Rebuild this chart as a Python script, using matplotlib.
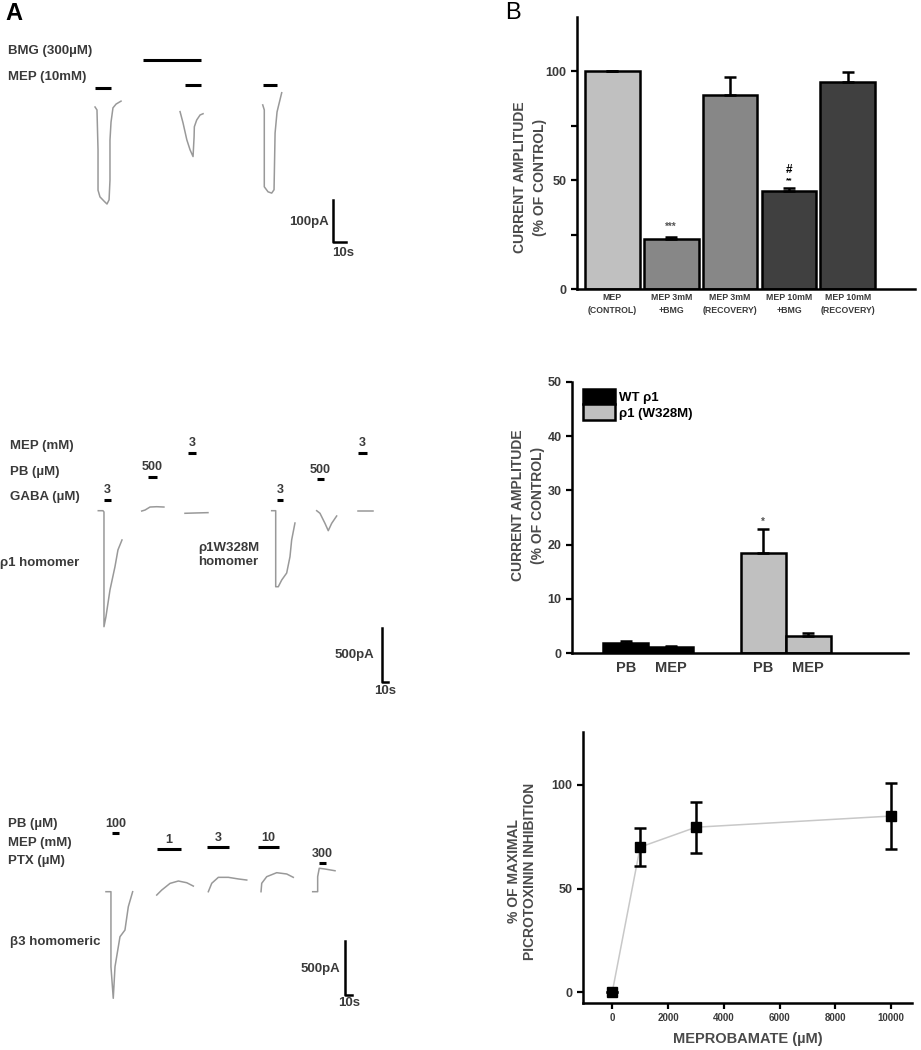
import matplotlib.pyplot as plt
from matplotlib.patches import Patch

plt.rcParams['font.family'] = ['Liberation Sans', 'DejaVu Sans']
plt.rcParams['font.weight'] = 'bold'
plt.rcParams['axes.labelweight'] = 'bold'

W, H = 921, 1050
fig = plt.figure(figsize=(9.21, 10.5), dpi=100)


def box(l, t, r, b):
    return [l / W, 1 - b / H, (r - l) / W, (b - t) / H]


def ftext(x, y, s, **kw):
    kw.setdefault('size', 9.5)
    kw.setdefault('color', '#3a3a3a')
    kw.setdefault('va', 'center')
    fig.text(x / W, 1 - y / H, s, **kw)


# ---------------- data: panel B ----------------
amp_labels = ['MEP\n(CONTROL)', 'MEP 3mM\n+BMG', 'MEP 3mM\n(RECOVERY)',
              'MEP 10mM\n+BMG', 'MEP 10mM\n(RECOVERY)']
amp_vals = [100, 23, 89, 45, 95]
amp_err = [0, 1, 8.5, 1.5, 4.7]
amp_colors = ['#c0c0c0', '#878787', '#878787', '#404040', '#404040']

rho_labels = ['PB', 'MEP', 'PB', 'MEP']
wt_vals = [1.8, 1.1]
wt_err = [0.35, 0.1]
mut_vals = [18.5, 3.2]
mut_err = [4.3, 0.4]

conc = [0, 1000, 3000, 10000]
inhib = [0, 70, 79.6, 85]
inhib_err = [0, 9, 12.4, 16]

# ---------------- data: panel A traces (time s, current pA) ----------------
# row 1: BMG / MEP
r1_onsets = [73.1, 138.5, 202.1]
r1_offsets = [0, -11, 5]
r1_t = [[0, 1.5, 2.3, 2.3, 3.8, 6.9, 9.2, 10.8, 11.5, 11.5, 12.3, 13.8, 16.2, 20],
        [0, 2.3, 5.2, 7.7, 10, 10.8, 11, 12.8, 15.4, 17.7],
        [0, 1.2, 1.2, 4.1, 6.9, 8.7, 9.5, 11, 12, 14.6]]
r1_i = [[0, -7, -102, -198, -214, -224, -231, -221, -174, -79, -36, -2, 7, 14],
        [0, -27, -67, -91, -107, -60, -36, -20, -8, -5],
        [0, -12, -195, -207, -210, -202, -67, -17, -4, 29]]
r1_apps = [(73.1, 85.4, 45, ''), (142.3, 154.6, 52, ''), (202.3, 213.1, 52, ''),
           (110, 154.6, 112, '')]

# row 2: rho1 and rho1 W328M
r2_onsets = [163.8, 236.2, 308.3, 452.8, 527.8, 597.2]
r2_offsets = [0, -3, -24, 0, 0, 0]
r2_t = [[0, 7.8, 9.5, 9.5, 12.8, 19.5, 27.8, 32.8, 39.5],
        [0, 5.5, 13.8, 25, 37],
        [0, 18.3, 38.3],
        [0, 6.7, 6.7, 11, 16.7, 25, 30.5, 33.3, 38.8],
        [0, 5.5, 13.8, 19.3, 25, 33.3],
        [0, 13.8, 25]]
r2_i = [[0, 0, -12, -1074, -981, -734, -519, -363, -271],
        [0, 9, 37, 40, 37],
        [0, 3, 6],
        [0, 0, -704, -704, -642, -577, -426, -271, -114],
        [0, -24, -117, -185, -117, -49],
        [0, 0, 0]]
r2_apps = [(173.3, 185, 99, '3'), (246.7, 261.7, 312, '500'), (313.3, 326.7, 534, '3'),
           (461.7, 471.7, 99, '3'), (528.3, 540, 290, '500'), (596.7, 611.7, 534, '3')]

# row 3: beta3 homomeric
r3_onsets = [151.4, 223.9, 297.6, 372.9, 446.7]
r3_offsets = [0, -31, 0, 0, 0]
r3_t = [[0, 7.1, 7.1, 10.4, 12.9, 20, 27.1, 31.9, 38.1],
        [0, 7.1, 19, 30.9, 42.9, 52.3],
        [0, 4.9, 14.3, 28.6, 42.9, 54.9],
        [0, 1, 8.1, 22.4, 36.7, 46.1],
        [0, 7.1, 7.1, 9.4, 17.6, 31.9]]
r3_i = [[0, 0, -694, -987, -694, -417, -355, -139, 0],
        [0, 46, 108, 130, 114, 83],
        [0, 78, 133, 133, 118, 108],
        [0, 78, 139, 176, 164, 133],
        [0, 0, 139, 217, 210, 194]]
r3_apps = [(160, 170, 543, '100'), (224.3, 258.6, 395, '1'), (295.7, 327.1, 414, '3'),
           (368.6, 398.6, 414, '10'), (455.7, 465.7, 266, '300')]

trace_color = '#999999'


def trace_ax(top, bottom, px_s, px_pa, base):
    ax = fig.add_axes(box(0, top, 460, bottom))
    ax.set_xlim(0, 460 / px_s)
    ax.set_ylim((base - bottom) / px_pa, (base - top) / px_pa)
    ax.axis('off')
    return ax


def draw_row(ax, onsets, offsets, ts, cs, apps, text_gap, sbar, sbar_pa):
    for t0, i0, t, c in zip(onsets, offsets, ts, cs):
        ax.plot([t0 + v for v in t], [i0 + v for v in c], color=trace_color, lw=1.1)
    for a, b, y, lab in apps:
        ax.plot([a, b], [y, y], color='black', lw=2.2, solid_capstyle='butt')
        if lab:
            ax.text((a + b) / 2, y + text_gap, lab, ha='center', va='center',
                    size=9, color='#3a3a3a')
    x0, y0 = sbar
    ax.plot([x0, x0, x0 + 10], [y0 + sbar_pa, y0, y0], color='black', lw=1.8)


# ---------------- panel A ----------------
ftext(5, 13, 'A', size=17, color='black')

ax_r1 = trace_ax(30, 260, 1.3, 0.42, 107)
draw_row(ax_r1, r1_onsets, r1_offsets, r1_t, r1_i, r1_apps, 0, (256.2, -321.4), 100)
ftext(8, 51, 'BMG (300µM)')
ftext(8, 77, 'MEP (10mM)')
ftext(329, 222, '100pA', ha='right')
ftext(343, 253, '10s', ha='center')

ax_r2 = trace_ax(430, 700, 0.6, 0.108, 510.7)
draw_row(ax_r2, r2_onsets, r2_offsets, r2_t, r2_i, r2_apps, 90, (636.7, -1586), 500)
ftext(10, 446, 'MEP (mM)')
ftext(10, 472, 'PB (µM)')
ftext(10, 497, 'GABA (µM)')
ftext(0, 563, 'ρ1 homomer')
ftext(198, 555, 'ρ1W328M\nhomomer', linespacing=1.25)
ftext(374, 655, '500pA', ha='right')
ftext(385, 691, '10s', ha='center')

ax_r3 = trace_ax(800, 1040, 0.7, 0.108, 891.7)
draw_row(ax_r3, r3_onsets, r3_offsets, r3_t, r3_i, r3_apps, 85, (492.9, -956), 500)
ftext(8, 824, 'PB (µM)')
ftext(8, 843, 'MEP (mM)')
ftext(8, 861, 'PTX (µM)')
ftext(10, 942, 'β3 homomeric')
ftext(340, 969, '500pA', ha='right')
ftext(349, 1003, '10s', ha='center')


# ---------------- panel B ----------------
def style(ax):
    for s in ['top', 'right']:
        ax.spines[s].set_visible(False)
    for s in ['left', 'bottom']:
        ax.spines[s].set_linewidth(1.8)
    ax.tick_params(direction='out', length=4, width=1.6, labelsize=9,
                   labelcolor='#3a3a3a')


ylab_kw = dict(size=10, color='#4a4a4a', fontweight='bold')

ftext(505, 13, 'B', size=17, color='black', fontweight='normal')

ekw = dict(ecolor='black', elinewidth=1.8, capsize=4, capthick=1.8)

ax1 = fig.add_axes(box(577, 17, 915, 289))
ax1.bar(range(5), amp_vals, width=0.93, color=amp_colors, edgecolor='black', lw=1.8,
        yerr=[[0] * 5, amp_err], error_kw=ekw)
ax1.set_xlim(-0.6, 5.14)
ax1.set_ylim(0, 125)
style(ax1)
ax1.set_yticks([0, 25, 50, 75, 100], ['0', '', '50', '', '100'])
ax1.set_xticks(range(5), amp_labels, linespacing=1.5)
ax1.tick_params(axis='x', length=0, labelsize=6.3, pad=3)
ax1.set_ylabel('CURRENT AMPLITUDE\n(% OF CONTROL)', linespacing=1.5, **ylab_kw)
ax1.yaxis.set_label_coords(-0.09, 0.41)
ax1.text(1, 28.5, '***', ha='center', va='center', size=7, color='#555555')
ax1.text(3, 54.5, '#', ha='center', va='center', size=8.5)
ax1.text(3, 49.8, '**', ha='center', va='center', size=6)

ax2 = fig.add_axes(box(572, 382, 908, 653))
wt_pos = [1.2, 2.2]
mut_pos = [4.25, 5.25]
ax2.bar(wt_pos, wt_vals, width=1, color='black', edgecolor='black', lw=1.8,
        yerr=[[0, 0], wt_err], error_kw=ekw)
ax2.bar(mut_pos, mut_vals, width=1, color='#c0c0c0', edgecolor='black', lw=1.8,
        yerr=[[0, 0], mut_err], error_kw=ekw)
ax2.set_xlim(0, 7.47)
ax2.set_ylim(0, 50)
style(ax2)
ax2.set_yticks([0, 10, 20, 30, 40, 50])
ax2.set_xticks(wt_pos + mut_pos, rho_labels)
ax2.tick_params(axis='x', length=0, labelsize=10.5, pad=6)
ax2.set_ylabel('CURRENT AMPLITUDE\n(% OF CONTROL)', linespacing=1.55, **ylab_kw)
ax2.yaxis.set_label_coords(-0.08, 0.546)
ax2.text(4.25, 24.2, '*', ha='center', va='center', size=7, color='#555555')
handles = [Patch(fc='black', ec='black', lw=1.8), Patch(fc='#c0c0c0', ec='black', lw=1.8)]
ax2.legend(handles, ['WT ρ1', 'ρ1 (W328M)'], loc='upper left', bbox_to_anchor=(0.033, 0.975),
           frameon=False, fontsize=9.5, handlelength=2.4, handleheight=1.45,
           labelspacing=0, borderpad=0, borderaxespad=0, handletextpad=0.3)

ax3 = fig.add_axes(box(583, 732, 912, 1003))
ax3.plot(conc, inhib, color='#c8c8c8', lw=1.1, zorder=1)
ax3.errorbar(conc, inhib, yerr=inhib_err, fmt='s', color='black', ms=6.5,
             capsize=4, elinewidth=1.8, capthick=1.8, zorder=2)
ax3.set_xlim(-1050, 10750)
ax3.set_ylim(-5.3, 125.6)
style(ax3)
ax3.set_xticks([0, 2000, 4000, 6000, 8000, 10000])
ax3.set_yticks([0, 50, 100])
ax3.tick_params(axis='x', labelsize=7)
ax3.set_xlabel('MEPROBAMATE (µM)', size=10.5, color='#4a4a4a', labelpad=6)
ax3.set_ylabel('% OF MAXIMAL\nPICROTOXININ INHIBITION', linespacing=1.2, **ylab_kw)
ax3.yaxis.set_label_coords(-0.14, 0.487)

fig.savefig('out.png', dpi=100)
